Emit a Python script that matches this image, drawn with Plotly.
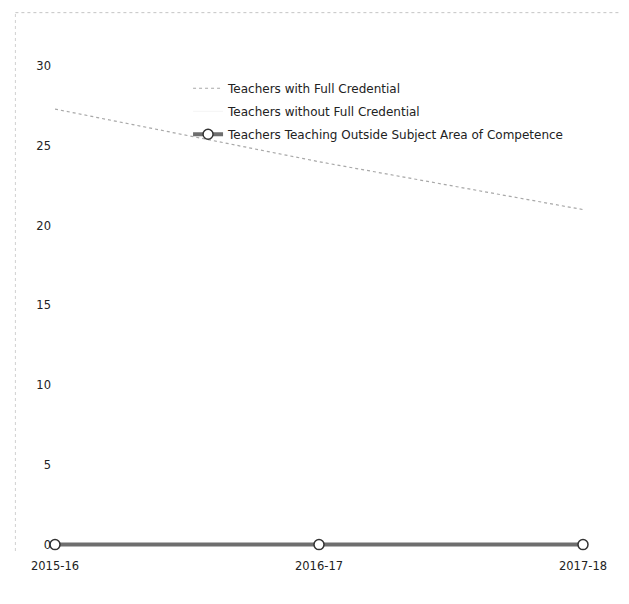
import plotly.graph_objects as go

years = ["2015-16", "2016-17", "2017-18"]
full_credential = [27.3, 24.0, 21.0]
without_credential = [0, 0, 0]
outside_subject = [0, 0, 0]
y_ticks = [0, 5, 10, 15, 20, 25, 30]

fig = go.Figure()
fig.add_trace(go.Scatter(
    x=years, y=full_credential, name="Teachers with Full Credential",
    mode="lines", line=dict(color="#a8a8a8", width=1.2, dash="dot"),
    legendgroup="a", cliponaxis=False,
))
fig.add_trace(go.Scatter(
    x=years, y=without_credential, name="Teachers without Full Credential",
    mode="lines", line=dict(color="#f4f4f4", width=1),
    legendgroup="b", cliponaxis=False,
))
fig.add_trace(go.Scatter(
    x=years, y=outside_subject, name="Teachers Teaching Outside Subject Area of Competence",
    mode="lines+markers", line=dict(color="#6e6e6e", width=4),
    marker=dict(symbol="circle", size=10, color="white", line=dict(color="#333", width=1.5)),
    legendgroup="c", cliponaxis=False,
))

fig.update_layout(
    width=629, height=604,
    margin=dict(l=47, r=54, t=58, b=61),
    paper_bgcolor="white", plot_bgcolor="white",
    font=dict(family="DejaVu Sans", size=12, color="#222"),
    showlegend=True,
    legend=dict(x=0.252, y=0.984, xanchor="left", yanchor="top",
                bgcolor="rgba(0,0,0,0)", font=dict(family="DejaVu Sans", size=12, color="#222"),
                traceorder="grouped", tracegroupgap=4, itemwidth=30),
    xaxis=dict(type="category", range=[0, 2], showgrid=False, zeroline=False,
               showline=False, ticks="", ticklabelstandoff=6,
               tickfont=dict(family="DejaVu Sans", size=11.5, color="#222")),
    yaxis=dict(range=[-0.4, 30], tickvals=y_ticks, showgrid=False, zeroline=False,
               showline=False, ticks="", ticklabelstandoff=3,
               tickfont=dict(family="DejaVu Sans", size=11.5, color="#222")),
    shapes=[
        dict(type="line", xref="paper", yref="paper", x0=-0.075, x1=1.1, y0=1.11, y1=1.11,
             line=dict(color="#c4c4c4", width=1, dash="dot")),
        dict(type="line", xref="paper", yref="paper", x0=-0.075, x1=-0.075, y0=0.0, y1=1.11,
             line=dict(color="#d0d0d0", width=1, dash="dot")),
    ],
)

fig.write_html("out.html")
